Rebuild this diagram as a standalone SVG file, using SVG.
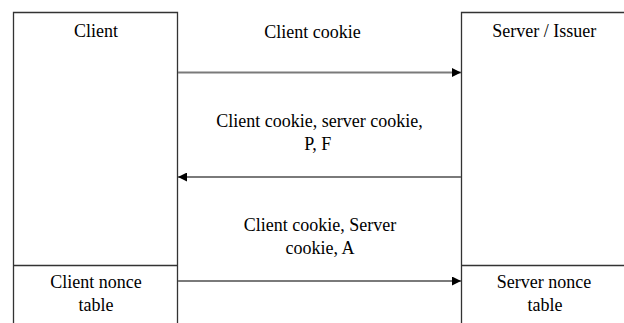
<svg xmlns="http://www.w3.org/2000/svg" width="624" height="323" viewBox="0 0 624 323">
<style>
.box{fill:#fff;stroke:#333;stroke-width:1.3}
.div{stroke:#333;stroke-width:1.3;fill:none}
.conn{stroke:#7a7a7a;stroke-width:2;fill:none}
</style>
<defs>
<marker id="ah" viewBox="0 0 10 10" refX="10" refY="5" markerWidth="9" markerHeight="9" markerUnits="userSpaceOnUse" orient="auto">
<path d="M0,0 L10,5 L0,10 z" fill="#000"/>
</marker>
</defs>
<rect width="624" height="323" fill="#fff"/>
<g id="client">
<path class="box" d="M13.5,330 V12.5 H177.5 V330"/>
<text x="74" y="37" font-family="'Liberation Serif', serif" font-size="18">Client</text>
</g>
<g id="client-nonce">
<line class="div" x1="13.5" y1="265.5" x2="177.5" y2="265.5"/>
<text x="50.3" y="288" font-family="'Liberation Serif', serif" font-size="18">Client nonce</text>
<text x="78.5" y="311" font-family="'Liberation Serif', serif" font-size="18">table</text>
</g>
<g id="server">
<path class="box" d="M630,12.5 H461.5 V330"/>
<text x="492.2" y="37" font-family="'Liberation Serif', serif" font-size="18">Server / Issuer</text>
</g>
<g id="server-nonce">
<line class="div" x1="461.5" y1="265.5" x2="630" y2="265.5"/>
<text x="496.8" y="288" font-family="'Liberation Serif', serif" font-size="18">Server nonce</text>
<text x="527.5" y="311" font-family="'Liberation Serif', serif" font-size="18">table</text>
</g>
<g id="connectors">
<line class="conn" x1="178" y1="72.5" x2="461" y2="72.5" marker-end="url(#ah)"/>
<line class="conn" x1="461" y1="177" x2="178" y2="177" marker-end="url(#ah)"/>
<line class="conn" x1="178" y1="281" x2="461" y2="281" marker-end="url(#ah)"/>
</g>
<g id="labels">
<text x="264.3" y="38" font-family="'Liberation Serif', serif" font-size="18">Client cookie</text>
<text x="216.3" y="127" font-family="'Liberation Serif', serif" font-size="18">Client cookie, server cookie,</text>
<text x="304.3" y="150" font-family="'Liberation Serif', serif" font-size="18">P, F</text>
<text x="243.7" y="231" font-family="'Liberation Serif', serif" font-size="18">Client cookie, Server</text>
<text x="285.5" y="254" font-family="'Liberation Serif', serif" font-size="18">cookie, A</text>
</g>
</svg>
